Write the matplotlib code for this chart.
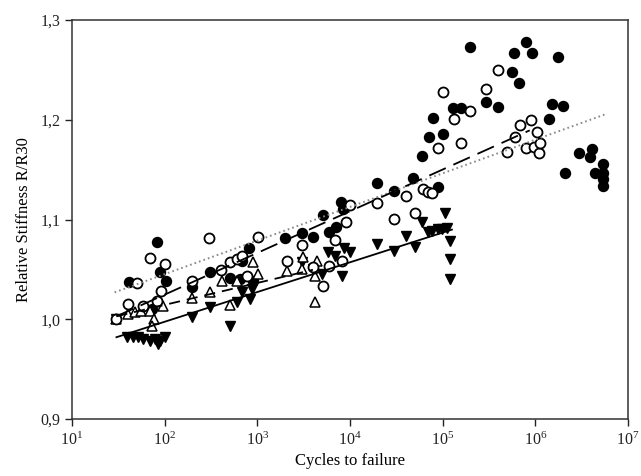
import numpy as np
import matplotlib
matplotlib.use('Agg')
import matplotlib.pyplot as plt

# Values: log10(cycles) and relative stiffness R/R30
filled_circ_logN = [1.61, 1.92, 1.95, 2.01, 1.86, 2.30, 2.49, 2.70, 2.81, 2.83,
                    2.91, 2.95, 3.30, 3.48, 3.60, 3.71, 3.77, 3.85, 3.90, 3.92,
                    4.29, 4.47, 4.68, 4.78, 4.85, 4.90, 4.95, 5.00, 5.11, 5.20,
                    5.29, 5.47, 5.60, 5.75, 5.77, 5.82, 5.90, 5.96, 6.15, 6.18,
                    6.25, 6.30, 6.32, 6.47, 6.59, 6.61, 6.64, 6.73, 6.73, 6.73, 6.73]
filled_circ_R = [1.037, 1.077, 1.047, 1.038, 1.010, 1.032, 1.047, 1.041, 1.040, 1.058,
                 1.071, 1.038, 1.081, 1.086, 1.082, 1.105, 1.087, 1.092, 1.118, 1.111,
                 1.137, 1.129, 1.142, 1.164, 1.183, 1.202, 1.133, 1.186, 1.212, 1.212,
                 1.273, 1.218, 1.213, 1.248, 1.267, 1.237, 1.278, 1.267, 1.201, 1.216,
                 1.263, 1.214, 1.147, 1.167, 1.163, 1.171, 1.147, 1.156, 1.147, 1.141, 1.134]

open_circ_logN = [1.48, 1.60, 1.70, 1.77, 1.84, 1.92, 1.96, 2.00, 2.29, 2.48,
                  2.61, 2.70, 2.78, 2.84, 2.89, 3.01, 3.32, 3.48, 3.60, 3.71,
                  3.77, 3.84, 3.91, 3.96, 4.00, 4.29, 4.47, 4.60, 4.70, 4.79,
                  4.84, 4.89, 4.95, 5.00, 5.12, 5.20, 5.30, 5.47, 5.60, 5.69,
                  5.78, 5.84, 5.90, 5.95, 5.99, 6.02, 6.04, 6.05]
open_circ_R = [1.000, 1.015, 1.036, 1.013, 1.061, 1.018, 1.028, 1.055, 1.038, 1.081,
               1.049, 1.057, 1.060, 1.063, 1.043, 1.082, 1.058, 1.074, 1.052, 1.033,
               1.053, 1.079, 1.058, 1.098, 1.115, 1.117, 1.101, 1.124, 1.107, 1.131,
               1.128, 1.127, 1.172, 1.228, 1.201, 1.177, 1.209, 1.231, 1.250, 1.168,
               1.183, 1.195, 1.172, 1.200, 1.173, 1.188, 1.167, 1.177]

open_tri_logN = [1.48, 1.60, 1.68, 1.75, 1.84, 1.88, 1.86, 1.98, 2.29, 2.49,
                 2.62, 2.70, 2.78, 2.95, 3.01, 3.32, 3.48, 3.49, 3.62, 3.64, 3.62]
open_tri_R = [1.000, 1.005, 1.007, 1.008, 1.008, 1.000, 0.993, 1.013, 1.021, 1.027,
              1.038, 1.014, 1.038, 1.057, 1.045, 1.048, 1.050, 1.062, 1.043, 1.058, 1.017]

down_tri_logN = [1.48, 1.59, 1.66, 1.71, 1.77, 1.84, 1.90, 1.93, 1.95, 2.00,
                 2.30, 2.49, 2.70, 2.78, 2.83, 2.92, 2.94, 3.48, 3.60, 3.70,
                 3.76, 3.84, 3.91, 3.94, 4.00, 4.29, 4.48, 4.60, 4.70, 4.78,
                 4.84, 4.89, 4.95, 4.99, 5.05, 5.02, 5.08, 5.08, 5.08]
down_tri_R = [1.000, 0.982, 0.982, 0.982, 0.980, 0.978, 0.980, 0.975, 0.978, 0.982,
              1.002, 1.012, 0.993, 1.017, 1.027, 1.020, 1.030, 1.057, 1.050, 1.045,
              1.067, 1.063, 1.043, 1.071, 1.067, 1.075, 1.068, 1.083, 1.072, 1.098,
              1.087, 1.088, 1.090, 1.090, 1.091, 1.107, 1.078, 1.060, 1.040]

# trend lines R = a + b*log10(N), drawn between logN start and end
fit_names = ['filled circles', 'open circles', 'open triangles', 'down triangles']
fit_a = [0.9778, 0.9411, 0.9704, 0.9379]
fit_b = [0.0337, 0.0418, 0.0220, 0.0298]
fit_start = [1.46, 1.48, 1.48, 1.48]
fit_end = [6.75, 5.94, 3.60, 5.10]

plt.rcParams['font.family'] = ['Liberation Serif', 'DejaVu Serif']
plt.rcParams['mathtext.fontset'] = 'custom'
plt.rcParams['mathtext.rm'] = 'Liberation Serif'
plt.rcParams['lines.scale_dashes'] = False

fig = plt.figure(figsize=(6.41, 4.76), dpi=100)
ax = fig.add_axes([0.1123, 0.1197, 0.8674, 0.8383])

ms = 7.2
ax.plot(10 ** np.array(down_tri_logN), down_tri_R, 'v', color='black', ms=ms, mec='black', zorder=3)
ax.plot(10 ** np.array(filled_circ_logN), filled_circ_R, 'o', color='black', ms=ms, zorder=3)
ax.plot(10 ** np.array(open_tri_logN), open_tri_R, '^', mfc='white', mec='black', ms=ms,
        mew=1.1, zorder=4)
ax.plot(10 ** np.array(open_circ_logN), open_circ_R, 'o', mfc='white', mec='black', ms=ms,
        mew=1.3, zorder=4)

styles = [dict(color='#888888', ls=(0, (1.2, 2.2)), lw=1.4),
          dict(color='black', ls=(0, (13, 6)), lw=1.3),
          dict(color='black', ls=(0, (8, 5)), lw=1.3),
          dict(color='black', ls='-', lw=1.3)]
for a, b, s, e, st in zip(fit_a, fit_b, fit_start, fit_end, styles):
    lx = np.linspace(s, e, 50)
    ax.plot(10 ** lx, a + b * lx, zorder=5, **st)

ax.set_xscale('log')
ax.set_xlim(10, 1e7)
ax.set_ylim(0.9, 1.3)
ax.set_xticks([10 ** k for k in range(1, 8)])
ax.set_xticklabels([r'$\mathregular{10^{%d}}$' % k for k in range(1, 8)])
ax.minorticks_off()
ax.set_yticks([0.9, 1.0, 1.1, 1.2, 1.3])
ax.set_yticklabels(['0,9', '1,0', '1,1', '1,2', '1,3'])
ax.tick_params(direction='out', length=5, width=1, labelsize=11.5, colors='#222222')
ax.tick_params(axis='x', pad=4)
for sp in ax.spines.values():
    sp.set_linewidth(1.1)
    sp.set_color('#333333')

ax.set_xlabel('Cycles to failure', fontsize=12, labelpad=3)
ax.set_ylabel('Relative Stiffness R/R30', fontsize=12, labelpad=6)

fig.savefig('out.png', dpi=100)
